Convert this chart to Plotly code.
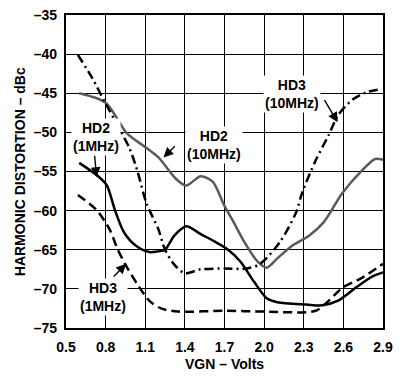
import plotly.graph_objects as go

# VGN sweep (Volts) and harmonic distortion (dBc) for each trace
hd2_10m_x = [0.6, 0.8, 0.96, 1.11, 1.2, 1.33, 1.41, 1.52, 1.61, 1.70, 1.77, 1.85, 1.95, 2.02, 2.1, 2.22, 2.34, 2.45, 2.59, 2.74, 2.84, 2.9]
hd2_10m_y = [-45.0, -46.2, -50.1, -52.0, -53.2, -55.9, -56.8, -55.6, -56.3, -59.4, -61.5, -64.0, -66.5, -67.3, -66.1, -64.4, -63.2, -61.5, -57.8, -54.9, -53.4, -53.5]

hd2_1m_x = [0.6, 0.75, 0.81, 0.87, 0.94, 1.03, 1.13, 1.2, 1.25, 1.32, 1.41, 1.52, 1.63, 1.72, 1.82, 1.92, 2.02, 2.1, 2.32, 2.44, 2.56, 2.69, 2.82, 2.9]
hd2_1m_y = [-53.9, -55.7, -56.8, -59.9, -62.8, -64.5, -65.3, -65.2, -65.0, -63.2, -62.0, -63.0, -64.0, -64.9, -66.5, -69.0, -71.2, -71.7, -72.0, -72.1, -71.5, -69.9, -68.4, -67.9]

hd3_1m_x = [0.59, 0.73, 0.83, 0.89, 0.95, 1.04, 1.13, 1.22, 1.35, 1.7, 2.0, 2.39, 2.49, 2.59, 2.74, 2.9]
hd3_1m_y = [-58.0, -59.9, -62.4, -64.9, -66.9, -69.4, -71.5, -72.5, -72.9, -72.8, -72.9, -72.8, -71.5, -69.9, -68.6, -66.8]

hd3_10m_x = [0.59, 0.7, 0.79, 0.89, 0.98, 1.04, 1.11, 1.2, 1.25, 1.32, 1.4, 1.52, 1.7, 1.87, 1.97, 2.12, 2.24, 2.29, 2.39, 2.49, 2.56, 2.67, 2.77, 2.88]
hd3_10m_y = [-40.1, -43.1, -46.0, -49.1, -52.0, -54.9, -59.1, -62.4, -65.0, -66.9, -68.0, -67.5, -67.4, -67.4, -66.8, -64.0, -60.3, -57.6, -53.6, -50.3, -47.8, -45.8, -44.9, -44.5]

x_ticks = [0.5, 0.8, 1.1, 1.4, 1.7, 2.0, 2.3, 2.6, 2.9]
x_tick_text = ["0.5", "0.8", "1.1", "1.4", "1.7", "2.0", "2.3", "2.6", "2.9"]
y_ticks = [-35, -40, -45, -50, -55, -60, -65, -70, -75]
y_tick_text = ["–35", "–40", "–45", "–50", "–55", "–60", "–65", "–70", "–75"]

FONT = "Liberation Sans"

fig = go.Figure()
fig.add_trace(go.Scatter(x=hd2_10m_x, y=hd2_10m_y, mode="lines",
                         line=dict(color="#5a5a5a", width=2.5, shape="spline", smoothing=0.8)))
fig.add_trace(go.Scatter(x=hd2_1m_x, y=hd2_1m_y, mode="lines",
                         line=dict(color="black", width=2.5, shape="spline", smoothing=0.8)))
fig.add_trace(go.Scatter(x=hd3_1m_x, y=hd3_1m_y, mode="lines",
                         line=dict(color="black", width=2.5, dash="9px,5px", shape="spline", smoothing=0.8)))
fig.add_trace(go.Scatter(x=hd3_10m_x, y=hd3_10m_y, mode="lines",
                         line=dict(color="black", width=2.5, dash="9px,4px,2px,4px", shape="spline", smoothing=0.8)))

# Curve labels with leader arrows (text on white boxes that break the grid)
labels = [
    dict(text="HD2<br>(1MHz)", tx=0.725, ty=-50.6, ax=0.716, ay=-52.8, hx=0.731, hy=-55.7),
    dict(text="HD2<br>(10MHz)", tx=1.62, ty=-51.6, ax=1.335, ay=-51.6, hx=1.238, hy=-53.2),
    dict(text="HD3<br>(10MHz)", tx=2.21, ty=-45.1, ax=2.45, ay=-45.7, hx=2.557, hy=-48.7),
    dict(text="HD3<br>(1MHz)", tx=0.783, ty=-71.0, ax=0.85, ay=-68.6, hx=0.955, hy=-66.8),
]
for lb in labels:
    fig.add_annotation(x=lb["tx"], y=lb["ty"], text=lb["text"],
                       showarrow=False, bgcolor="white", borderpad=1,
                       font=dict(family=FONT, size=14, color="black", weight="bold"))
for lb in labels:
    fig.add_annotation(x=lb["hx"], y=lb["hy"], ax=lb["ax"], ay=lb["ay"],
                       axref="x", ayref="y", text="", showarrow=True,
                       arrowhead=2, arrowsize=1.4, arrowwidth=1.4, arrowcolor="black")

# Axis titles
fig.add_annotation(text="HARMONIC DISTORTION – dBc", xref="paper", yref="paper",
                   x=-0.146, y=0.5, xanchor="center", yanchor="middle",
                   textangle=-90, showarrow=False,
                   font=dict(family=FONT, size=14, color="black", weight="bold"))
fig.add_annotation(text="VGN – Volts", xref="paper", yref="paper",
                   x=0.5, y=-0.115, xanchor="center", yanchor="middle", showarrow=False,
                   font=dict(family=FONT, size=14, color="black", weight="bold"))

fig.update_xaxes(range=[0.5, 2.9], tickvals=x_ticks, ticktext=x_tick_text,
                 showgrid=True, gridcolor="black", gridwidth=1.4,
                 showline=True, linecolor="black", linewidth=2.4, mirror=True,
                 zeroline=False, ticks="", ticklabelstandoff=5,
                 tickfont=dict(family=FONT, size=14, color="black", weight="bold"))
fig.update_yaxes(range=[-75, -35], tickvals=y_ticks, ticktext=y_tick_text,
                 showgrid=True, gridcolor="black", gridwidth=1.4,
                 showline=True, linecolor="black", linewidth=2.4, mirror=True,
                 zeroline=False, ticks="", ticklabelstandoff=4,
                 tickfont=dict(family=FONT, size=14, color="black", weight="bold"))

fig.update_layout(width=400, height=379, showlegend=False,
                  margin=dict(l=66, r=12, t=7, b=51),
                  plot_bgcolor="white", paper_bgcolor="white")

fig.write_html("out.html")
